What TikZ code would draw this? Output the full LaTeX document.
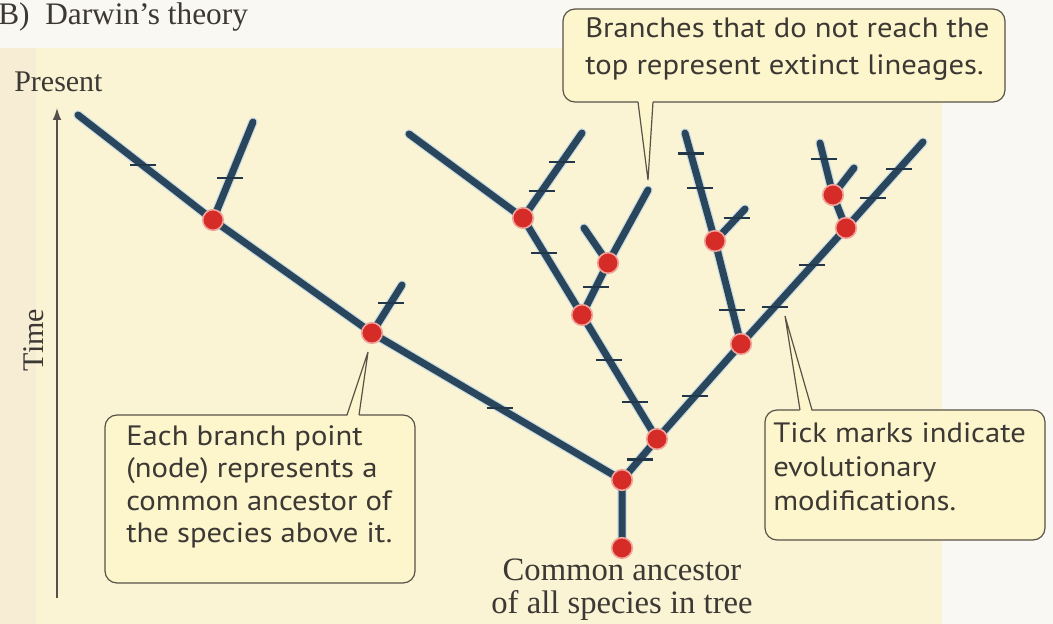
\documentclass[tikz,border=0pt]{standalone}
\usepackage{fontspec}
\setmainfont{Liberation Serif}
\newfontfamily\calloutfont{PT Sans}
\usetikzlibrary{arrows.meta,calc}

\definecolor{paper}{RGB}{249,248,242}
\definecolor{panel}{RGB}{250,243,212}
\definecolor{strip}{RGB}{247,236,212}
\definecolor{boxfill}{RGB}{253,246,204}
\definecolor{boxline}{RGB}{88,82,72}
\definecolor{treeblue}{RGB}{42,70,92}
\definecolor{halo}{RGB}{200,220,228}
\definecolor{dotred}{RGB}{214,44,40}
\definecolor{dotring}{RGB}{240,165,155}
\definecolor{ink}{RGB}{60,56,52}
\definecolor{axisgray}{RGB}{85,80,75}

\newcommand\tickat[3]{\draw[tickmark] ($(#1)!#3!(#2)$) +(-13,0) -- +(13,0);}

\begin{document}
\begin{tikzpicture}[x=0.75pt,y=-0.75pt,
  branch/.style={line width=5.25pt,color=treeblue,line cap=round,line join=round,
    preaction={draw=halo,line width=7pt,line cap=round,line join=round}},
  tickmark/.style={line width=1.6pt,color=treeblue!80!black},
  dot/.style={circle,fill=dotred,draw=dotring,line width=1.2pt,minimum size=15.5pt,inner sep=0pt},
  callbox/.style={draw=boxline,line width=0.9pt,fill=boxfill,rounded corners=9pt,inner sep=0pt},
  calltext/.style={text=ink,align=left,inner sep=0pt,anchor=north west,xscale=1.095,transform shape},
  tailline/.style={draw=boxline,line width=0.9pt},
  serif/.style={text=ink,inner sep=0pt},
  axis/.style={draw=axisgray,line width=1.1pt,-{Latex[length=9pt,width=6.5pt]}}
]
% background
\path[use as bounding box] (0,0) rectangle (1053,624);
\fill[paper] (0,0) rectangle (1053,624);
\fill[panel] (0,48) rectangle (942,624);
\fill[strip] (0,48) rectangle (36,624);

% coordinates of branch points and tips
\coordinate (r0) at (622,548);
\coordinate (a1) at (622,480);
\coordinate (a2) at (372,333);
\coordinate (a3) at (213,220);
\coordinate (tA) at (78,115);
\coordinate (tB) at (253,122);
\coordinate (tC) at (402,285);
\coordinate (b1) at (657,439);
\coordinate (b2) at (582,315);
\coordinate (b3) at (523,218);
\coordinate (b4) at (608,263);
\coordinate (tD) at (409,134);
\coordinate (tE) at (582,133);
\coordinate (tF) at (584,228);
\coordinate (tG) at (648,190);
\coordinate (c1) at (741,344);
\coordinate (c2) at (715,241);
\coordinate (c3) at (846,228);
\coordinate (c4) at (833,195);
\coordinate (tH) at (685,133);
\coordinate (tI) at (745,209);
\coordinate (tJ) at (923,142);
\coordinate (tK) at (820,143);
\coordinate (tL) at (854,168);

% branches
\draw[branch] (tA) -- (a3) -- (a2) -- (a1) -- (r0);
\draw[branch] (a3) -- (tB);
\draw[branch] (a2) -- (tC);
\draw[branch] (a1) -- (b1) -- (c1) -- (c3) -- (tJ);
\draw[branch] (b1) -- (b2) -- (b3) -- (tD);
\draw[branch] (b3) -- (tE);
\draw[branch] (b2) -- (b4) -- (tG);
\draw[branch] (b4) -- (tF);
\draw[branch] (c1) -- (c2) -- (tH);
\draw[branch] (c2) -- (tI);
\draw[branch] (c3) -- (c4) -- (tK);
\draw[branch] (c4) -- (tL);

% tick marks
\tickat{tA}{a3}{0.48}
\tickat{a2}{a1}{0.51}
\tickat{a3}{tB}{0.43}
\tickat{a2}{tC}{0.62}
\tickat{a1}{b1}{0.5}
\tickat{b1}{b2}{0.30}
\tickat{b1}{b2}{0.64}
\tickat{b2}{b3}{0.64}
\tickat{b3}{tE}{0.32}
\tickat{b3}{tE}{0.66}
\tickat{b2}{b4}{0.54}
\tickat{b1}{c1}{0.45}
\tickat{c1}{c2}{0.33}
\tickat{c2}{tH}{0.49}
\tickat{c2}{tH}{0.81}
\tickat{c2}{tI}{0.72}
\tickat{c1}{c3}{0.32}
\tickat{c1}{c3}{0.68}
\tickat{c3}{tJ}{0.35}
\tickat{c3}{tJ}{0.69}
\tickat{c4}{tK}{0.69}

% branch point dots
\foreach \p in {r0,a1,a2,a3,b1,b2,b3,b4,c1,c2,c3,c4}
  \node[dot] (dot-\p) at (\p) {};

% time axis
\coordinate (axbot) at (57,598);
\coordinate (axtop) at (57,108);
\draw[axis] (axbot) -- (axtop);
\node[serif,font=\fontsize{22.5}{26}\selectfont,anchor=base west] (present) at (14,92) {Present};
\node[serif,font=\fontsize{22.5}{26}\selectfont,rotate=90] (time) at (34,340) {Time};

% title
\node[serif,font=\fontsize{23.5}{28}\selectfont,anchor=base west] (title) at (-2,25) {B)\enspace Darwin’s theory};

% common ancestor label
\node[serif,font=\fontsize{24.5}{24.75}\selectfont,align=center,anchor=north] (rootlabel) at (622,559) {Common ancestor\\of all species in tree};

% callout 1: extinct lineages
\node[callbox,minimum width=331.5pt,minimum height=69.75pt] (box1) at (784,55.5) {};
\coordinate (p1a) at (638,100);
\coordinate (p1b) at (653,100);
\coordinate (tip1) at (648,180);
\fill[boxfill] (p1a) -- (tip1) -- (p1b) -- cycle;
\draw[tailline] ($(p1a)+(0,2)$) -- (tip1) -- ($(p1b)+(0,2)$);
\coordinate (t1pos) at (585,17);
\node[calltext,font=\calloutfont\fontsize{21}{27.75}\selectfont] (text1) at (t1pos) {Branches that do not reach the\\top represent extinct lineages.};

% callout 2: branch point
\node[callbox,minimum width=232.5pt,minimum height=126pt] (box2) at (260,499) {};
\coordinate (p2a) at (347,417);
\coordinate (p2b) at (359,417);
\coordinate (tip2) at (368,352);
\fill[boxfill] (p2a) -- (tip2) -- (p2b) -- cycle;
\draw[tailline] ($(p2a)+(0,-2)$) -- (tip2) -- ($(p2b)+(0,-2)$);
\coordinate (t2pos) at (126,425);
\node[calltext,font=\calloutfont\fontsize{21}{24.4}\selectfont] (text2) at (t2pos) {Each branch point\\(node) represents a\\common ancestor of\\the species above it.};

% callout 3: tick marks
\node[callbox,minimum width=210pt,minimum height=97.5pt] (box3) at (905,475) {};
\coordinate (p3a) at (800,412);
\coordinate (p3b) at (812,412);
\coordinate (tip3) at (785,316);
\fill[boxfill] (p3a) -- (tip3) -- (p3b) -- cycle;
\draw[tailline] ($(p3a)+(0,-2)$) -- (tip3) -- ($(p3b)+(0,-2)$);
\coordinate (t3pos) at (773,422);
\node[calltext,font=\calloutfont\fontsize{21}{25.5}\selectfont] (text3) at (t3pos) {Tick marks indicate\\evolutionary\\modifications.};
\end{tikzpicture}
\end{document}
